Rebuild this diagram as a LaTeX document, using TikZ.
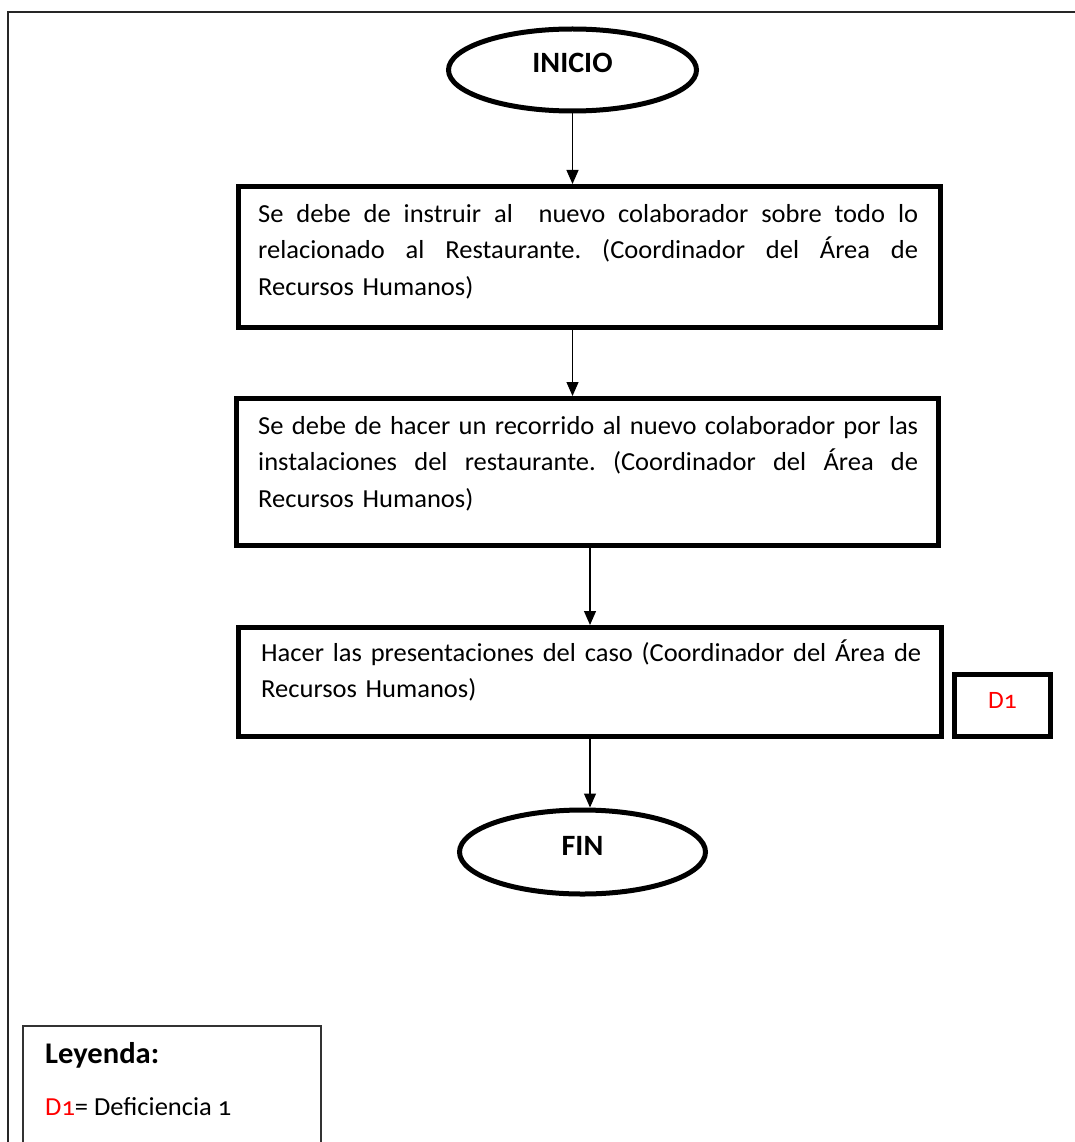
\documentclass[tikz,border=0pt]{standalone}
\usepackage{fontspec}
\setmainfont{Carlito}[FakeStretch=1.02,Numbers=OldStyle]
\usetikzlibrary{shapes.geometric,arrows.meta}
% a justified line of fixed width: every space stretches alike
\newcommand{\jline}[1]{\leavevmode\hbox to 660pt{\spaceskip=0.23em plus 1fil minus 0.08em\xspaceskip=\spaceskip #1}}
\begin{document}
\begin{tikzpicture}[x=1pt,y=-1pt,
  flow/.style={line width=1.2pt,-{Triangle[length=14pt,width=12pt]}},
  terminal/.style={ellipse,draw,line width=5pt,inner sep=0pt,
    text height=20pt,text depth=14pt,
    font=\fontsize{29.5}{32}\selectfont\bfseries},
  stepbox/.style={draw,line width=5pt,inner sep=0pt},
  steptext/.style={anchor=north west,inner sep=0pt,text width=660pt,
    align=left,font=\fontsize{26}{36.5}\selectfont},
  frameline/.style={draw=black!85,line width=2pt},
  legendbox/.style={draw=black!80,line width=1.8pt,inner sep=0pt},
]
\useasboundingbox (0,0) rectangle (1075,1142);

% page frame (only top and left edges fall inside the page)
\draw[frameline] (8,1160) |- (1090,12);

% start and end
\node[terminal,minimum width=248pt,minimum height=82pt] (inicio) at (572.5,70) {INICIO};
\node[terminal,minimum width=246pt,minimum height=84pt] (fin) at (582.5,852) {FIN};

% process steps
\node[stepbox,minimum width=702pt,minimum height=141pt] (b1) at (589.5,257) {};
\node[steptext] (b1t) at (258,199) {%
  \jline{\rule{0pt}{23pt}Se debe de instruir al\ \ nuevo colaborador sobre todo lo}\\
  \jline{relacionado al Restaurante. (Coordinador del Área de}\\
  Recursos Humanos)};

\node[stepbox,minimum width=702pt,minimum height=147pt] (b2) at (587.5,472) {};
\node[steptext] (b2t) at (258,411) {%
  \jline{\rule{0pt}{23pt}Se debe de hacer un recorrido al nuevo colaborador por las}\\
  \jline{instalaciones del restaurante. (Coordinador del Área de}\\
  Recursos Humanos)};

\node[stepbox,minimum width=703pt,minimum height=109pt] (b3) at (590,682) {};
\node[steptext] (b3t) at (261,638) {%
  \jline{\rule{0pt}{23pt}Hacer las presentaciones del caso (Coordinador del Área de}\\
  Recursos Humanos)};

% deficiency marker
\node[stepbox,minimum width=96pt,minimum height=62pt,text=red,
  text height=18pt,text depth=12.5pt,
  font=\fontsize{25}{28}\selectfont] (d1) at (1002.5,705.5) {D1};

% connectors
\draw[flow] (inicio.south) -- (inicio.south |- b1.north);
\draw[flow] (b1.south -| inicio.south) -- (b2.north -| inicio.south);
\draw[flow] (b2.south -| b3.north) -- (b3.north);
\draw[flow] (b3.south) -- (b3.south |- fin.north);

% legend
\node[legendbox,minimum width=298pt,minimum height=150pt] (legend) at (172,1101) {};
\node[anchor=base west,inner sep=0pt,font=\fontsize{30}{32}\selectfont\bfseries] (legt) at (45,1063) {Leyenda:};
\node[anchor=base west,inner sep=0pt,font=\fontsize{26}{30}\selectfont] (legd) at (45,1115) {\textcolor{red}{D1}= Deficiencia 1};
\end{tikzpicture}
\end{document}
